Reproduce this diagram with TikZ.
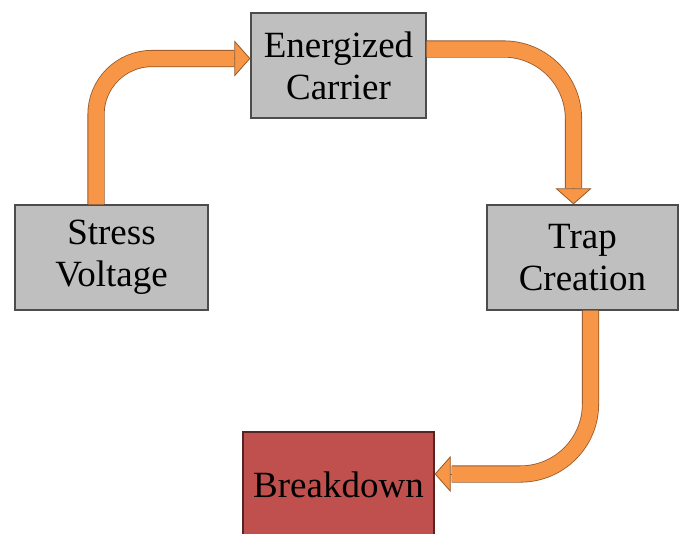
\documentclass[tikz,border=0pt]{standalone}
\usepackage{fontspec}
\setmainfont{Liberation Serif}
\usetikzlibrary{arrows.meta, positioning, calc}
\definecolor{boxgray}{RGB}{191,191,191}
\definecolor{boxred}{RGB}{192,80,77}
\definecolor{lightorange}{RGB}{247,150,70}
\definecolor{darkorange}{RGB}{150,88,40}

\begin{document}
\begin{tikzpicture}[
    x=1pt, y=-1pt,
    box/.style={draw=black!70, line width=1.3pt, fill=boxgray, minimum width=#1, minimum height=105pt, align=center, inner sep=0pt, font=\fontsize{37}{42}\selectfont},
    box/.default=175pt,
    flow/.style={draw=darkorange, line width=0.8pt, double=lightorange, double distance=15.5pt},
    head/.style={draw=darkorange, line width=0.8pt, -{Triangle[width=36pt, length=16pt, fill=lightorange]}},
]
    \fill[white] (0,0) rectangle (680,533);
    \useasboundingbox (0,0) rectangle (680,533);

    \node[box=193pt] (volt) at (111.5,257.5) {Stress\\Voltage};
    \node[box] (carrier) at (338.5,65.5) {Energized\\Carrier};
    \node[box=191pt] (trap) at (582.5,257.5) {Trap\\Creation};
    \node[box=191pt, fill=boxred, draw=boxred!45!black] (brk) at (338.5,484.5) {Breakdown};

    % stress voltage -> energized carrier
    \draw[flow, rounded corners=56pt] ([xshift=-15.5pt]volt.north) |- ([xshift=-16pt, yshift=7pt]carrier.west);
    \draw[head] ([xshift=-16pt, yshift=7pt]carrier.west) -- ([yshift=7pt]carrier.west);

    % energized carrier -> trap creation
    \draw[flow, rounded corners=70pt] ([yshift=16.5pt]carrier.east) -| ([xshift=-9pt, yshift=16pt]trap.north);
    \draw[head] ([xshift=-9pt, yshift=16pt]trap.north) -- ([xshift=-9pt]trap.north);

    % trap creation -> breakdown
    \draw[flow, rounded corners=70pt] ([xshift=8pt]trap.south) |- ([xshift=17pt, yshift=10.5pt]brk.east);
    \draw[head] ([xshift=17pt, yshift=10.5pt]brk.east) -- ([yshift=10.5pt]brk.east);
\end{tikzpicture}
\end{document}
